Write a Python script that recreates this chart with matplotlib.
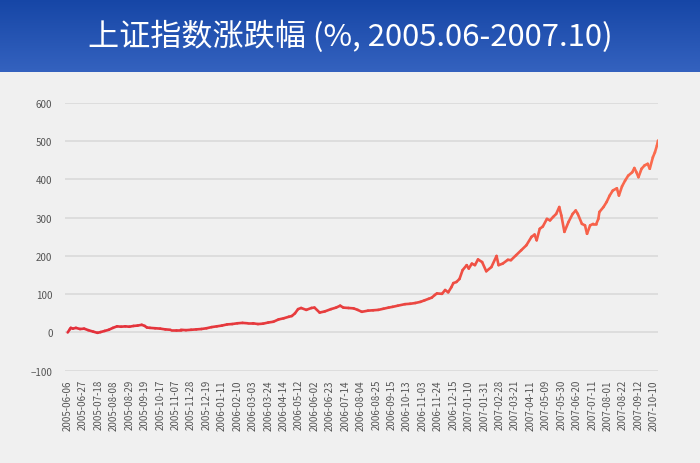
import numpy as np
import matplotlib.pyplot as plt
from matplotlib.collections import LineCollection
from matplotlib.colors import LinearSegmentedColormap

plt.rcParams['font.family'] = ['Noto Sans CJK SC', 'DejaVu Sans']

# tick labels, one every 15 trading days
tick_labels = ['2005-06-06', '2005-06-27', '2005-07-18', '2005-08-08', '2005-08-29',
               '2005-09-19', '2005-10-17', '2005-11-07', '2005-11-28', '2005-12-19',
               '2006-01-11', '2006-02-10', '2006-03-03', '2006-03-24', '2006-04-14',
               '2006-05-12', '2006-06-02', '2006-06-23', '2006-07-14', '2006-08-04',
               '2006-08-25', '2006-09-15', '2006-10-13', '2006-11-03', '2006-11-24',
               '2006-12-15', '2007-01-10', '2007-01-31', '2007-02-28', '2007-03-21',
               '2007-04-11', '2007-05-09', '2007-05-30', '2007-06-20', '2007-07-11',
               '2007-08-01', '2007-08-22', '2007-09-12', '2007-10-10']

# trading-day index and cumulative change (%)
days = [0, 2, 3, 5, 8, 12, 16, 20, 25, 29, 32, 36, 40, 44, 48, 52, 56, 60, 64, 68,
        72, 75, 77, 80, 85, 90, 95, 100, 105, 110, 115, 120, 125, 130, 135, 140, 145,
        150, 155, 160, 165, 170, 175, 180, 185, 190, 195, 200, 205, 210, 215, 218,
        221, 224, 227, 232, 237, 240, 245, 250, 256, 261, 265, 268, 273, 278, 282,
        286, 292, 297, 302, 307, 312, 316, 321, 328, 333, 338, 343, 347, 351, 354,
        357, 359, 364, 367, 370, 373, 375, 378, 381, 384, 388, 390, 393, 396, 399,
        403, 407, 412, 417, 419, 423, 428, 431, 436, 441, 446, 451, 454, 456, 459,
        462, 466, 469, 472, 475, 478, 480, 483, 487, 491, 494, 496, 500, 503, 505,
        508, 511, 514, 516, 517, 521, 524, 527, 530, 534, 536, 539, 542, 545, 549,
        551, 553, 555, 558, 561, 564, 566, 569, 571, 573, 574]
pct = [0, 8, 12, 10, 12, 9, 10, 6, 2, -1, 1, 4, 7, 12, 16, 15, 16, 15, 17, 18,
       20, 17, 13, 12, 11, 10, 8, 7, 7, 7, 6, 7, 8, 9, 11, 14, 16,
       18, 21, 22, 24, 25, 24, 24, 22, 23, 26, 28, 34, 37, 41, 43,
       50, 61, 64, 59, 64, 65, 52, 55, 61, 65, 70, 65, 64, 63, 59,
       54, 57, 58, 59, 62, 65, 67, 70, 74, 75, 77, 80, 84, 88, 91,
       98, 102, 101, 111, 105, 118, 129, 132, 140, 163, 176, 167, 180, 176, 191,
       184, 160, 171, 200, 176, 180, 190, 189, 202, 215, 228, 250, 256, 241, 271,
       277, 297, 293, 302, 310, 328, 306, 263, 289, 310, 319, 310, 284, 280, 258,
       280, 284, 284, 297, 315, 328, 341, 358, 371, 377, 358, 382, 397, 410, 419,
       430, 419, 406, 428, 437, 441, 428, 458, 471, 489, 502]

fig = plt.figure(figsize=(7, 4.64), dpi=100, facecolor='#f0f0f0')

# blue title banner
bax = fig.add_axes([0, 1 - 73 / 464, 1, 73 / 464])
grad = np.linspace(0, 1, 100).reshape(-1, 1)
bcmap = LinearSegmentedColormap.from_list('banner', ['#1646a6', '#3462bf'])
bax.imshow(grad, aspect='auto', cmap=bcmap, extent=[0, 1, 0, 1], origin='upper')
bax.set_xlim(0, 1)
bax.set_ylim(0, 1)
bax.axis('off')
bax.text(0.5, 0.5, '上证指数涨跌幅 (%, 2005.06-2007.10)', color='white', fontsize=22.4,
         fontweight='light', ha='center', va='center')

# main chart
ax = fig.add_axes([65 / 700, 1 - 371.7 / 464, 593 / 700, 267.7 / 464])
ax.set_facecolor('#f0f0f0')

pts = np.column_stack([days, pct])
segs = np.stack([pts[:-1], pts[1:]], axis=1)
lcmap = LinearSegmentedColormap.from_list('line', ['#e3303b', '#e8403f', '#fb6c4e'])
lc = LineCollection(segs, cmap=lcmap, norm=plt.Normalize(0, 574), linewidth=1.9,
                    capstyle='round', joinstyle='round')
lc.set_array(np.array(days[:-1], dtype=float))
ax.add_collection(lc)

ax.set_xlim(-2.6, 574)
ax.set_ylim(-100, 600)
ax.set_yticks(range(-100, 601, 100))
ax.set_xticks(range(0, 571, 15))
ax.set_xticklabels(tick_labels, rotation=90)
ax.grid(axis='y', color='#dcdcdc', linewidth=1.3)
ax.set_axisbelow(True)
for s in ax.spines.values():
    s.set_visible(False)
ax.tick_params(axis='both', length=0, labelsize=7, colors='#555555')
ax.tick_params(axis='y', pad=9)
ax.tick_params(axis='x', pad=6)

fig.savefig('out.png', dpi=100, facecolor='#f0f0f0')
